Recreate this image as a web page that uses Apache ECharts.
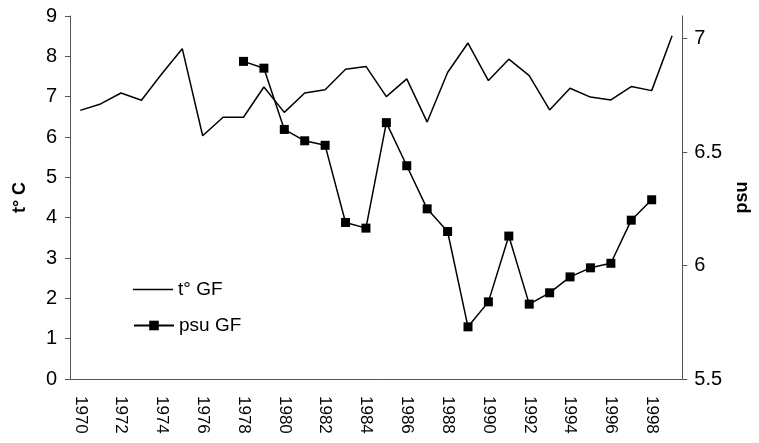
<!DOCTYPE html>
<html>
<head>
<meta charset="utf-8">
<script src="https://cdn.jsdelivr.net/npm/echarts@6/dist/echarts.min.js"></script>
<style>
  html, body { margin: 0; padding: 0; background: #fff; }
  #chart { width: 759px; height: 443px; }
</style>
</head>
<body>
<div id="chart"></div>
<script>
// years on the x axis
var years = [];
for (var y = 1970; y <= 1999; y++) years.push(String(y));

// temperature, t° C (left axis)
var tempGF = [6.66, 6.82, 7.09, 6.91, 7.57, 8.19, 6.03, 6.49, 6.49, 7.24,
              6.61, 7.09, 7.17, 7.68, 7.75, 7.0, 7.44, 6.37, 7.6, 8.33,
              7.4, 7.93, 7.52, 6.67, 7.21, 6.99, 6.92, 7.25, 7.15, 8.51];

// salinity, psu (right axis)
var psuGF = [null, null, null, null, null, null, null, null, 6.90, 6.87,
             6.60, 6.55, 6.53, 6.19, 6.165, 6.63, 6.44, 6.25, 6.15, 5.73,
             5.84, 6.13, 5.83, 5.88, 5.95, 5.99, 6.01, 6.20, 6.29, null];

var myChart = echarts.init(document.getElementById('chart'));
var font = 'Liberation Sans, Arial, sans-serif';
var legendText = { fontFamily: font, fontSize: 19, color: '#000' };

var option = {
    animation: false,
    backgroundColor: '#fff',
    textStyle: { fontFamily: font, color: '#000' },
    grid: { left: 70, right: 60, top: 16, bottom: 64 },
    // two legends: plain line for t°, line with square for psu
    legend: [
        {
            left: 133,
            top: 280,
            padding: 0,
            itemWidth: 40,
            itemHeight: 1.5,
            itemGap: 2,
            icon: 'rect',
            textStyle: legendText,
            data: ['t° GF']
        },
        {
            left: 133,
            top: 316,
            padding: 0,
            itemWidth: 40,
            itemHeight: 12,
            itemGap: 2,
            textStyle: legendText,
            data: ['psu GF']
        }
    ],
    xAxis: {
        type: 'category',
        data: years,
        boundaryGap: true,
        axisLine: { lineStyle: { color: '#555', width: 1 } },
        axisTick: { interval: 0, length: 5, lineStyle: { color: '#555' } },
        axisLabel: {
            interval: 1,
            rotate: -90,
            margin: 17,
            fontSize: 17,
            color: '#000',
            fontFamily: font
        },
        splitLine: { show: false }
    },
    yAxis: [
        {
            type: 'value',
            min: 0,
            max: 9,
            interval: 1,
            name: 't° C',
            nameLocation: 'middle',
            nameRotate: 90,
            nameGap: 41,
            nameTextStyle: { fontFamily: font, fontSize: 18, fontWeight: 'bold', color: '#000' },
            axisLine: { show: true, lineStyle: { color: '#555', width: 1 } },
            axisTick: { show: true, length: 5, lineStyle: { color: '#555' } },
            axisLabel: { fontSize: 20, color: '#000', fontFamily: font, margin: 13 },
            splitLine: { show: false }
        },
        {
            type: 'value',
            min: 5.5,
            max: 7.1,
            interval: 0.5,
            name: 'psu',
            nameLocation: 'middle',
            nameRotate: 90,
            nameGap: 48,
            nameTextStyle: { fontFamily: font, fontSize: 18, fontWeight: 'bold', color: '#000' },
            axisLine: { show: true, lineStyle: { color: '#555', width: 1 } },
            axisTick: { show: true, length: 5, lineStyle: { color: '#555' } },
            axisLabel: { fontSize: 20, color: '#000', fontFamily: font, margin: 12, showMaxLabel: false },
            splitLine: { show: false }
        }
    ],
    series: [
        {
            name: 't° GF',
            type: 'line',
            yAxisIndex: 0,
            data: tempGF,
            symbol: 'none',
            lineStyle: { color: '#000', width: 1.5 },
            itemStyle: { color: '#000' }
        },
        {
            name: 'psu GF',
            type: 'line',
            yAxisIndex: 1,
            data: psuGF,
            symbol: 'rect',
            symbolSize: 9,
            showSymbol: true,
            lineStyle: { color: '#000', width: 1.5 },
            itemStyle: { color: '#000', borderWidth: 0 }
        }
    ]
};

myChart.setOption(option);
</script>
</body>
</html>
